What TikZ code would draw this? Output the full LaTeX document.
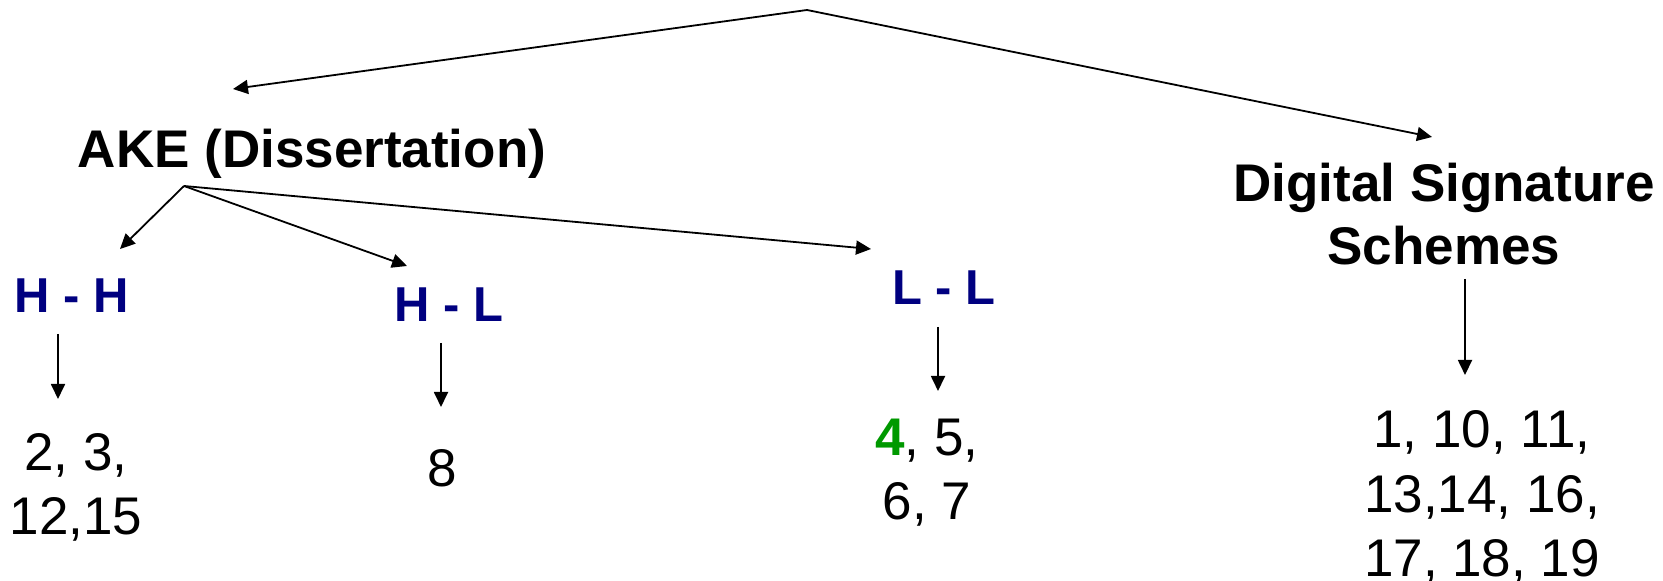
\documentclass[tikz,border=0pt]{standalone}
\usepackage{fontspec}
\setmainfont{Liberation Sans}
\usetikzlibrary{arrows.meta}
\definecolor{kindblue}{RGB}{0,0,128}
\definecolor{owngreen}{RGB}{0,153,0}
\tikzset{
	arr/.style={line width=0.9pt,-{Triangle[length=7.5pt,width=7pt]}},
	topic/.style={font=\fontsize{26.5}{31.5}\selectfont\bfseries,align=center,inner sep=0,anchor=base},
	kind/.style={font=\fontsize{24.5}{29}\selectfont\bfseries,text=kindblue,inner sep=0,anchor=base},
	refs/.style={font=\fontsize{26.5}{32}\selectfont,align=center,inner sep=0,anchor=base}
}
\begin{document}
\begin{tikzpicture}[x=0.5pt,y=-0.5pt]
	\useasboundingbox (0,0) rectangle (1663,581);
	% topics (base = last line)
	\node[topic] (ake) at (312,168) {AKE (Dissertation)};
	\node[topic] (dss) at (1444,265) {Digital Signature\\Schemes};
	% key kinds
	\node[kind] (hh) at (72,313) {H - H};
	\node[kind] (hl) at (449,322) {H - L};
	\node[kind] (ll) at (944,305) {L - L};
	% paper numbers
	\node[refs] (hhRefs) at (76,535) {2, 3,\\12,15};
	\node[refs] (hlRefs) at (442,487) {8};
	\node[refs] (llRefs) at (927,520) {\textcolor{owngreen}{\bfseries 4}, 5,\\6, 7};
	\node[refs] (dssRefs) at (1482,576) {1, 10, 11,\\13,14, 16,\\17, 18, 19};
	% fork points and arrow ends
	\coordinate (root) at (807,10);
	\coordinate (akeIn) at (233,89);
	\coordinate (dssIn) at (1432,137);
	\coordinate (akeFork) at (184,186);
	\coordinate (hhIn) at (120,249);
	\coordinate (hlIn) at (407,266);
	\coordinate (llIn) at (871,249);
	\coordinate (hhOut) at (58,334);
	\coordinate (hhRefsIn) at (58,399);
	\coordinate (hlOut) at (441,343);
	\coordinate (hlRefsIn) at (441,407);
	\coordinate (llOut) at (938,327);
	\coordinate (llRefsIn) at (938,391);
	\coordinate (dssOut) at (1465,279);
	\coordinate (dssRefsIn) at (1465,375);
	% connectors
	\draw [arr] (root) -- (akeIn);
	\draw [arr] (root) -- (dssIn);
	\draw [arr] (akeFork) -- (hhIn);
	\draw [arr] (akeFork) -- (hlIn);
	\draw [arr] (akeFork) -- (llIn);
	\draw [arr] (hhOut) -- (hhRefsIn);
	\draw [arr] (hlOut) -- (hlRefsIn);
	\draw [arr] (llOut) -- (llRefsIn);
	\draw [arr] (dssOut) -- (dssRefsIn);
\end{tikzpicture}
\end{document}
